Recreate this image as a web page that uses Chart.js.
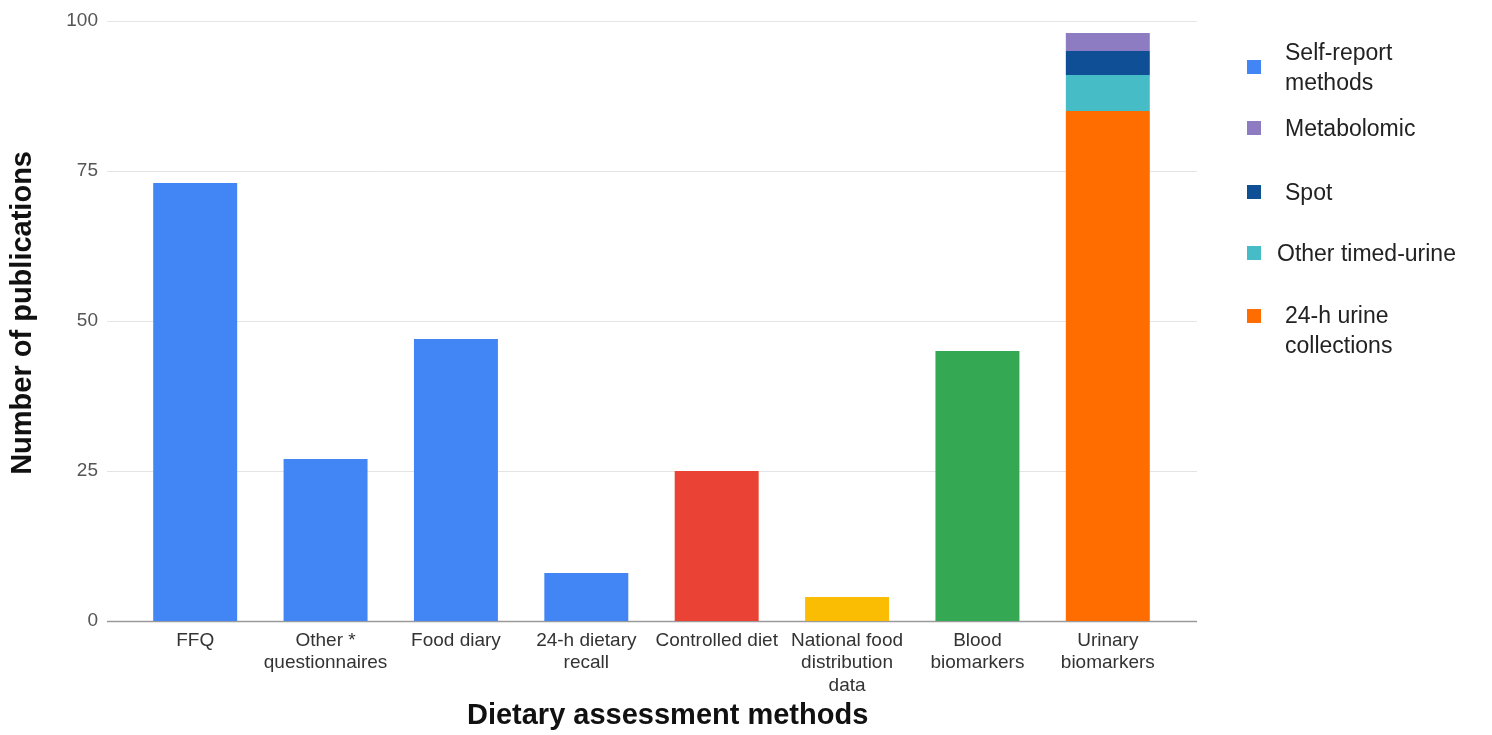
<!DOCTYPE html>
<html>
<head>
<meta charset="utf-8">
<script src="https://cdn.jsdelivr.net/npm/chart.js@4.4.1/dist/chart.umd.min.js"></script>
<style>
  html, body { margin: 0; padding: 0; background: #ffffff; }
  #wrap { position: relative; width: 1492px; height: 735px; font-family: "Liberation Sans", Arial, sans-serif; }
  #chart { position: absolute; left: 0; top: 0; }
  .lg-item { position: absolute; color: #222; font-size: 23px; line-height: 30px; }
  .lg-box { position: absolute; width: 14px; height: 14px; }
</style>
</head>
<body>
<div id="wrap">
  <canvas id="chart" width="1492" height="735"></canvas>
</div>
<script>
// Publications per dietary assessment method
const categories = [
  'FFQ',
  ['Other *', 'questionnaires'],
  'Food diary',
  ['24-h dietary', 'recall'],
  'Controlled diet',
  ['National food', 'distribution', 'data'],
  ['Blood', 'biomarkers'],
  ['Urinary', 'biomarkers']
];
const selfReport      = [73, 27, 47, 8, null, null, null, null];
const controlledDiet  = [null, null, null, null, 25, null, null, null];
const nationalFood    = [null, null, null, null, null, 4, null, null];
const bloodMarkers    = [null, null, null, null, null, null, 45, null];
const urine24h        = [null, null, null, null, null, null, null, 85];
const otherTimedUrine = [null, null, null, null, null, null, null, 6];
const spotUrine       = [null, null, null, null, null, null, null, 4];
const metabolomic     = [null, null, null, null, null, null, null, 3];
const yTicks = [0, 25, 50, 75, 100];

const colors = {
  self: '#4285F4', controlled: '#EA4335', national: '#FBBC04', blood: '#34A853',
  urine24: '#FF6D01', timed: '#46BDC6', spot: '#0E4F96', metab: '#8E7CC3'
};

// Legend entries (only the grouped series are listed)
const legendEntries = [
  { lines: ['Self-report', 'methods'], color: colors.self },
  { lines: ['Metabolomic'], color: colors.metab },
  { lines: ['Spot'], color: colors.spot },
  { lines: ['Other timed-urine'], color: colors.timed },
  { lines: ['24-h urine', 'collections'], color: colors.urine24 }
];
// legend placement: text top, text left, box top
const legendLayout = [
  { top: 37, left: 1285, boxTop: 60 },
  { top: 113, left: 1285, boxTop: 121 },
  { top: 177, left: 1285, boxTop: 185 },
  { top: 238, left: 1277, boxTop: 246 },
  { top: 300, left: 1285, boxTop: 309 }
];

const wrap = document.getElementById('wrap');
legendEntries.forEach((e, i) => {
  const pos = legendLayout[i];
  const box = document.createElement('div');
  box.className = 'lg-box';
  box.style.left = '1247px';
  box.style.top = pos.boxTop + 'px';
  box.style.background = e.color;
  wrap.appendChild(box);
  const t = document.createElement('div');
  t.className = 'lg-item';
  t.style.left = pos.left + 'px';
  t.style.top = pos.top + 'px';
  t.innerHTML = e.lines.join('<br>');
  wrap.appendChild(t);
});

// Horizontal grid lines that run a little past the category band on both sides
const gridPlugin = {
  id: 'wideGrid',
  beforeDatasetsDraw(chart) {
    const { ctx, chartArea, scales } = chart;
    const x0 = chartArea.left - 23, x1 = chartArea.right + 24;
    ctx.save();
    yTicks.forEach(v => {
      const y = Math.round(scales.y.getPixelForValue(v)) + 0.5;
      ctx.strokeStyle = v === 0 ? '#9a9a9a' : '#e4e4e4';
      ctx.lineWidth = v === 0 ? 1.5 : 1;
      ctx.beginPath();
      ctx.moveTo(x0, y);
      ctx.lineTo(x1, y);
      ctx.stroke();
    });
    ctx.restore();
  }
};

const ds = (label, data, color) => ({
  label, data, backgroundColor: color, borderWidth: 0, stack: 'all'
});

new Chart(document.getElementById('chart'), {
  type: 'bar',
  data: {
    labels: categories,
    datasets: [
      ds('Self-report methods', selfReport, colors.self),
      ds('Controlled diet', controlledDiet, colors.controlled),
      ds('National food distribution data', nationalFood, colors.national),
      ds('Blood biomarkers', bloodMarkers, colors.blood),
      ds('24-h urine collections', urine24h, colors.urine24),
      ds('Other timed-urine', otherTimedUrine, colors.timed),
      ds('Spot', spotUrine, colors.spot),
      ds('Metabolomic', metabolomic, colors.metab)
    ]
  },
  options: {
    responsive: false,
    animation: false,
    barPercentage: 0.644,
    categoryPercentage: 1.0,
    layout: { padding: { left: 0, right: 319, top: 21, bottom: 0 } },
    plugins: { legend: { display: false }, tooltip: { enabled: false } },
    scales: {
      x: {
        stacked: true,
        grid: { display: false, drawTicks: false },
        border: { display: false },
        ticks: {
          color: '#333',
          font: { family: '"Liberation Sans", Arial, sans-serif', size: 19 },
          padding: 8,
          maxRotation: 0,
          autoSkip: false
        },
        title: {
          display: true,
          text: '    Dietary assessment methods',
          color: '#111',
          font: { family: '"Liberation Sans", Arial, sans-serif', size: 29, weight: 'bold' },
          padding: { top: 0, bottom: 2 }
        },
        afterFit(scale) { scale.height = 114; }
      },
      y: {
        stacked: true,
        min: 0,
        max: 100,
        afterBuildTicks(scale) { scale.ticks = yTicks.map(v => ({ value: v })); },
        grid: { display: false, drawTicks: false },
        border: { display: false },
        ticks: {
          color: '#555',
          font: { family: '"Liberation Sans", Arial, sans-serif', size: 19 },
          padding: 32
        },
        title: {
          display: true,
          text: '  Number of publications',
          color: '#111',
          font: { family: '"Liberation Sans", Arial, sans-serif', size: 29, weight: 'bold' },
          padding: { top: 6, bottom: 0 }
        },
        afterFit(scale) {
          scale.width = 130;
          scale.paddingTop = 0;
          scale.paddingBottom = 0;
        }
      }
    }
  },
  plugins: [gridPlugin]
});
</script>
</body>
</html>
